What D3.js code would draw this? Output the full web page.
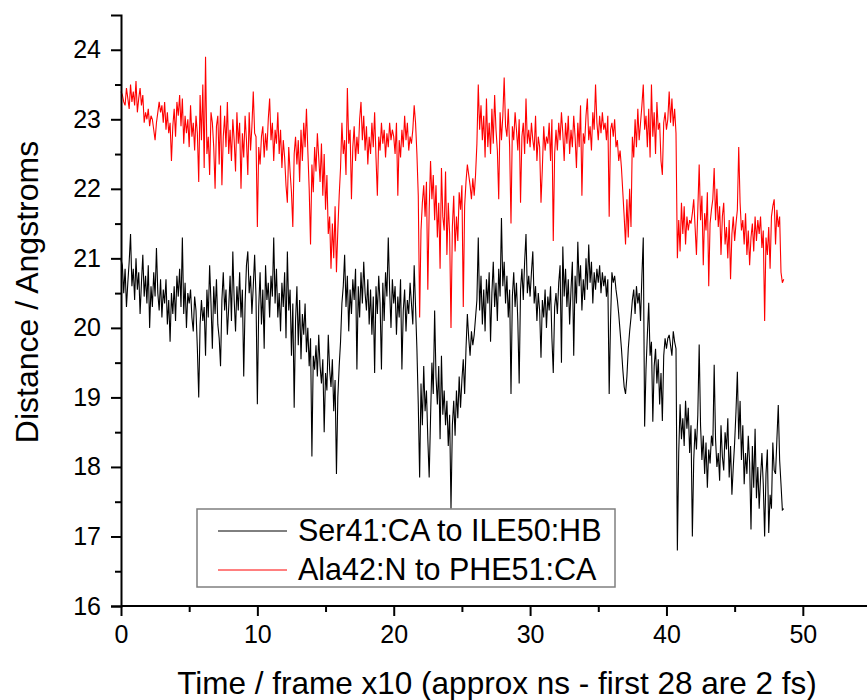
<!DOCTYPE html>
<html>
<head>
<meta charset="utf-8">
<script src="https://cdn.jsdelivr.net/npm/d3@7"></script>
<style>
  html, body { margin: 0; padding: 0; background: #fff; }
  #draw_svg { width: 867px; height: 700px; }
  text { font-family: Arial, "Liberation Sans", sans-serif; }
</style>
</head>
<body>
<div id="draw_svg"></div>
<script>
// sample spacing of the trajectory (frame x10)
const timeStep = 0.1;

const seriesNames = ['Ser41:CA to ILE50:HB', 'Ala42:N to PHE51:CA'];
const seriesColors = ['#000000', '#ff0000'];

// Ser41:CA to ILE50:HB, one row per time unit
const serValues = [
  20.98,20.90,20.50,20.85,20.30,20.65,20.95,21.35,20.60,20.85,
  20.40,21.00,20.55,20.80,20.20,20.65,21.05,20.45,20.75,20.35,
  20.90,20.00,20.60,20.30,20.80,20.45,21.15,20.50,20.25,20.70,
  20.15,20.55,20.35,20.70,20.05,20.40,19.80,20.50,20.20,20.60,
  20.10,20.75,20.45,20.85,20.30,21.30,20.20,20.65,20.00,20.50,
  20.35,20.55,20.15,19.95,20.45,20.25,19.70,19.00,20.05,20.40,
  20.10,20.30,19.60,20.55,20.15,20.90,20.35,19.70,20.60,20.20,
  20.70,20.05,19.85,19.45,20.40,20.80,20.25,20.55,19.90,20.30,
  20.75,20.10,21.10,20.40,19.95,20.60,20.25,20.80,20.15,20.55,
  19.30,20.35,20.90,21.10,20.50,20.75,20.20,20.60,21.05,20.45,
  18.90,20.30,20.80,20.05,20.55,19.70,20.90,20.40,20.65,20.15,
  20.75,20.45,21.30,20.35,20.85,20.15,20.50,19.95,20.65,20.30,
  20.80,19.85,21.10,20.25,20.55,19.60,20.35,18.85,20.10,20.60,
  19.75,20.40,19.55,20.20,19.90,20.35,19.65,20.00,19.45,19.85,
  18.15,19.60,19.40,19.75,19.30,19.90,19.45,19.20,19.55,18.50,
  19.35,19.10,19.90,19.40,19.15,19.55,18.80,19.25,17.90,19.00,
  19.45,19.80,20.35,20.60,21.05,20.30,20.75,19.95,20.55,20.20,
  20.70,20.40,20.85,19.40,20.60,20.15,20.80,20.35,20.95,20.50,
  20.25,20.70,20.05,20.55,19.90,20.45,19.35,20.60,20.20,20.75,
  20.35,19.40,20.65,20.10,20.80,20.45,21.30,20.55,20.00,20.70,
  20.35,20.60,19.90,20.45,20.15,20.70,19.40,20.25,20.55,19.95,
  20.40,20.20,20.65,20.35,20.05,20.90,20.30,19.70,18.90,17.85,
  19.20,18.60,19.45,18.80,19.10,18.40,17.85,18.70,19.50,19.05,
  20.25,19.30,18.90,19.45,18.40,19.60,18.75,19.10,18.60,18.95,
  18.30,18.75,17.40,18.60,18.95,18.45,19.10,18.70,19.30,18.85,
  19.25,19.55,19.05,19.70,20.20,19.85,19.60,19.95,19.75,19.90,
  20.15,20.40,21.30,20.25,20.75,20.05,20.55,19.95,20.70,20.35,
  20.80,19.80,20.50,20.95,20.30,20.65,20.10,20.85,20.45,21.58,
  20.60,20.95,20.35,20.75,20.15,20.55,19.05,20.45,20.80,20.30,
  20.65,20.10,19.20,20.55,20.85,20.40,20.95,21.35,20.50,20.75,
  20.45,20.80,21.10,20.35,20.60,20.10,20.50,20.25,19.57,20.40,
  20.15,20.55,20.00,20.45,20.25,20.60,19.85,19.35,20.30,20.50,
  20.20,20.65,20.90,19.50,21.17,20.45,20.85,20.30,20.70,20.05,
  20.55,20.95,19.60,20.75,20.35,21.24,20.60,20.90,20.25,20.70,
  20.40,21.00,20.55,21.20,20.65,20.95,20.35,20.80,20.55,20.85,
  20.65,20.90,20.50,20.80,20.60,20.75,20.45,20.70,19.05,20.10,
  20.80,20.65,20.75,20.55,20.40,20.20,19.95,19.70,19.40,19.15,
  19.05,19.30,19.70,19.95,20.15,20.40,20.55,20.20,20.60,20.35,
  20.50,20.10,20.75,21.30,18.58,19.40,19.90,20.36,19.60,19.80,
  18.65,19.45,19.70,19.20,19.55,18.90,19.35,18.66,19.60,19.85,
  19.70,19.85,19.90,19.75,19.60,19.95,19.80,19.70,16.80,18.20,
  18.90,18.40,18.70,18.30,18.95,18.55,18.85,18.20,18.60,17.00,
  18.10,18.55,18.25,18.75,19.76,18.60,18.10,18.45,17.90,18.35,
  17.70,18.25,18.05,18.45,18.30,19.47,18.40,18.00,18.20,17.80,
  18.60,18.15,17.95,18.50,18.25,18.70,17.85,18.30,17.60,18.00,
  18.35,18.80,19.37,18.40,18.95,18.10,18.60,17.75,18.20,17.90,
  18.45,18.05,17.10,18.30,17.70,18.55,17.55,18.00,17.40,17.85,
  18.20,17.75,17.00,17.90,18.25,17.05,17.60,17.40,18.35,17.95,
  17.90,18.40,18.89,18.10,17.75,17.38,17.40
];

// Ala42:N to PHE51:CA, one row per time unit
const alaValues = [
  23.40,23.35,23.25,23.20,23.45,23.30,23.15,23.50,23.25,23.40,
  23.20,23.55,23.10,23.30,23.45,23.20,23.35,22.95,23.10,23.00,
  23.15,22.90,23.05,23.00,22.85,22.70,22.95,23.10,23.25,23.10,
  23.20,22.95,23.25,22.85,23.10,22.80,22.95,22.40,22.90,23.15,
  22.75,23.25,23.05,23.35,22.90,23.30,22.65,23.05,22.80,23.00,
  22.60,23.20,22.75,22.95,22.55,23.05,22.80,22.10,23.35,22.70,
  23.50,22.30,23.90,22.50,22.75,22.20,23.10,22.95,22.60,22.00,
  22.90,23.05,22.35,23.20,22.05,22.75,23.05,22.60,23.25,22.50,
  22.85,22.40,23.00,22.70,22.25,23.10,22.65,22.95,22.00,22.80,
  22.45,23.05,22.70,22.20,23.10,22.55,22.90,23.40,22.80,22.75,
  21.45,22.60,22.35,22.75,22.90,22.45,22.80,22.55,23.00,23.30,
  22.70,22.95,22.40,22.85,22.65,23.10,22.50,22.85,22.30,22.70,
  22.45,22.05,21.80,22.60,22.25,21.95,21.45,22.50,22.75,22.35,
  22.70,22.10,22.85,22.40,22.95,22.60,23.15,22.55,22.00,21.20,
  22.35,21.95,22.60,22.25,22.80,22.45,22.10,22.65,21.90,22.50,
  21.70,22.20,21.35,21.60,20.85,21.50,21.00,21.75,20.80,21.40,
  21.90,22.30,22.95,22.50,22.70,22.20,23.45,22.65,22.85,21.85,
  22.60,22.90,22.40,22.75,22.50,23.00,23.25,22.70,23.05,22.55,
  22.90,22.35,22.75,22.50,22.95,22.60,23.10,22.45,21.90,22.75,
  22.55,22.95,22.65,22.85,22.45,22.80,22.60,22.95,22.70,22.85,
  22.75,22.50,22.95,21.90,22.70,22.45,22.85,22.60,23.05,22.70,
  22.95,22.55,22.75,22.65,22.85,23.20,22.95,22.50,21.90,20.15,
  21.40,21.80,22.05,21.60,22.10,20.55,21.70,22.40,21.85,22.20,
  21.55,22.05,21.30,21.80,20.85,22.30,21.60,21.40,22.25,21.05,
  21.80,21.35,20.00,21.45,21.90,21.10,21.60,21.25,21.95,21.70,
  22.05,20.30,21.75,22.10,22.35,22.20,22.05,21.85,22.15,21.90,
  22.20,22.65,23.50,22.85,23.20,22.70,23.05,22.45,23.30,22.60,
  22.95,22.50,23.15,22.65,23.35,22.85,22.55,21.85,23.10,22.70,
  23.05,23.60,22.90,22.75,23.15,22.60,21.50,22.90,22.70,23.10,
  22.85,22.55,23.00,21.80,22.75,22.95,22.50,23.30,22.65,22.85,
  22.60,22.95,22.70,22.55,23.05,22.40,22.75,22.60,21.80,22.30,
  22.90,22.55,22.75,22.65,22.95,22.40,23.00,21.25,22.50,22.85,
  22.55,22.95,22.70,23.10,22.80,22.40,22.95,22.65,23.05,22.50,
  22.85,22.60,23.05,22.75,22.30,22.95,22.60,23.20,21.90,22.80,
  22.65,23.05,23.30,22.70,22.90,22.55,23.10,22.85,23.50,22.95,
  22.70,23.05,22.80,23.10,22.85,22.95,22.70,23.05,21.60,22.85,
  22.95,22.75,23.00,22.60,22.70,22.40,22.55,22.30,21.95,21.60,
  21.20,21.85,21.30,22.00,21.45,22.75,22.45,23.00,22.60,23.15,
  22.70,22.95,23.20,23.50,22.85,23.05,22.60,23.15,22.45,23.50,
  22.75,23.10,22.50,23.25,22.85,22.95,22.40,22.20,22.95,23.10,
  22.85,23.00,23.40,22.95,23.30,22.90,23.15,22.80,21.00,21.55,
  21.10,21.80,21.35,21.75,21.20,21.60,21.40,21.55,21.50,21.65,
  21.85,21.45,21.05,21.70,22.35,21.55,21.90,20.90,21.65,21.40,
  21.95,20.60,21.50,21.70,21.85,22.30,21.55,22.00,21.45,21.75,
  21.05,21.60,21.80,21.20,21.45,21.00,21.55,20.70,21.35,21.60,
  21.25,21.50,21.70,22.60,21.80,21.40,21.55,21.20,21.65,21.05,
  21.40,20.90,21.30,21.50,21.10,21.60,21.25,21.55,21.35,21.60,
  21.15,21.40,20.10,21.30,21.05,21.45,20.85,21.60,21.75,21.85,
  21.20,21.70,21.45,21.60,20.80,20.65,20.70
];

const xTicks = [0, 10, 20, 30, 40, 50];
const xMinorTicks = [5, 15, 25, 35, 45];
const yTicks = [16, 17, 18, 19, 20, 21, 22, 23, 24];
const yMinorTicks = [16.5, 17.5, 18.5, 19.5, 20.5, 21.5, 22.5, 23.5];

/**
 * build the point list of one series
 */
toPoints = (values) => {
    return values.map((v, i) => ({t: i * timeStep, v}));
}

pageInit = () => {
    const width = 867, height = 700;

    const svg = d3.select('#draw_svg')
        .append('svg')
        .attr('width', width)
        .attr('height', height);

    const x = d3.scaleLinear().domain([0, 55]).range([121, 871]);
    const y = d3.scaleLinear().domain([16, 24.5]).range([606, 15]);

    // lines
    const line = d3.line()
        .x(d => x(d.t))
        .y(d => y(d.v));

    [serValues, alaValues].forEach((vals, k) => {
        svg.append('path')
            .datum(toPoints(vals))
            .attr('fill', 'none')
            .attr('stroke', seriesColors[k])
            .attr('stroke-width', 1.1)
            .attr('d', line);
    });

    // x axis, major + minor ticks
    const xAxis = svg.append('g')
        .attr('transform', `translate(0,${y(16)})`)
        .call(d3.axisBottom(x).tickValues(xTicks).tickSize(10).tickPadding(9).tickFormat(d3.format('d')));
    svg.append('g')
        .attr('transform', `translate(0,${y(16)})`)
        .call(d3.axisBottom(x).tickValues(xMinorTicks).tickSize(6).tickFormat(''))
        .select('.domain').remove();

    // y axis, major + minor ticks
    svg.append('g')
        .attr('transform', `translate(${x(0)},0)`)
        .call(d3.axisLeft(y).tickValues(yTicks).tickSize(10).tickPadding(10).tickFormat(d3.format('d')));
    svg.append('g')
        .attr('transform', `translate(${x(0)},0)`)
        .call(d3.axisLeft(y).tickValues(yMinorTicks).tickSize(6).tickFormat(''))
        .select('.domain').remove();

    svg.selectAll('.domain').attr('stroke-width', 2).attr('stroke', '#000');
    svg.selectAll('.tick line').attr('stroke-width', 2).attr('stroke', '#000');
    svg.selectAll('.tick text')
        .attr('font-size', 25)
        .attr('fill', '#000')
        .attr('font-family', 'Arial, "Liberation Sans", sans-serif');
    xAxis.select('.domain').attr('d', `M${x(0)},0H${width}`);

    // axis titles
    svg.append('text')
        .attr('transform', `translate(38,292) rotate(-90)`)
        .attr('text-anchor', 'middle')
        .attr('font-size', 32)
        .text('Distance / Angstroms');

    svg.append('text')
        .attr('x', 497)
        .attr('y', 694)
        .attr('text-anchor', 'middle')
        .attr('font-size', 31.5)
        .text('Time / frame x10 (approx ns - first 28 are 2 fs)');

    // legend
    const legend = svg.append('g');
    legend.append('rect')
        .attr('x', 197).attr('y', 509)
        .attr('width', 418).attr('height', 78)
        .attr('fill', '#fff')
        .attr('stroke', '#7f7f7f')
        .attr('stroke-width', 1.5);

    seriesNames.forEach((name, k) => {
        const ly = 531 + k * 39;
        legend.append('line')
            .attr('x1', 218).attr('x2', 287)
            .attr('y1', ly).attr('y2', ly)
            .attr('stroke', seriesColors[k])
            .attr('stroke-width', 1);
        legend.append('text')
            .attr('x', 298)
            .attr('y', ly + 10)
            .attr('font-size', 30.5)
            .text(name);
    });
}

window.onload = () => {
    pageInit();
}
</script>
</body>
</html>
